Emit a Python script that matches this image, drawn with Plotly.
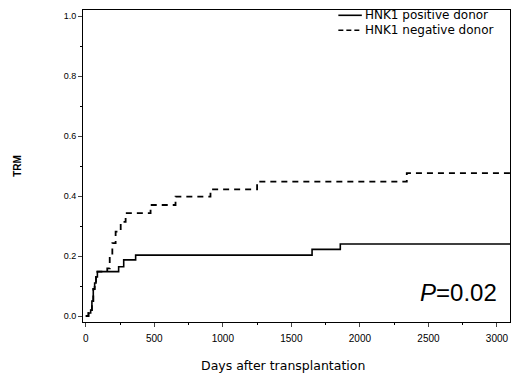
import plotly.graph_objects as go

# Step data (day, cumulative incidence)
pos_days = [0, 20, 36, 45, 55, 65, 75, 85, 240, 277, 364, 1651, 1857, 3095]
pos_trm  = [0.0, 0.01, 0.02, 0.05, 0.09, 0.11, 0.13, 0.148, 0.164, 0.187, 0.203, 0.222, 0.240, 0.240]

neg_days = [0, 20, 36, 45, 55, 65, 75, 85, 157, 175, 194, 218, 255, 291, 473, 655, 910, 1250, 2342, 3095]
neg_trm  = [0.0, 0.01, 0.02, 0.05, 0.09, 0.11, 0.13, 0.148, 0.159, 0.20, 0.243, 0.281, 0.314, 0.343, 0.370, 0.398, 0.422, 0.448, 0.476, 0.476]

series_names = ["HNK1 positive donor", "HNK1 negative donor"]
x_ticks = [0, 500, 1000, 1500, 2000, 2500, 3000]
y_ticks = [0.0, 0.2, 0.4, 0.6, 0.8, 1.0]
y_ticklabels = ["0.0", "0.2", "0.4", "0.6", "0.8", "1.0"]

fig = go.Figure()
fig.add_trace(go.Scatter(x=pos_days, y=pos_trm, mode="lines", line=dict(color="black", width=1.6, shape="hv"),
                         name=series_names[0], showlegend=False))
fig.add_trace(go.Scatter(x=neg_days, y=neg_trm, mode="lines", line=dict(color="black", width=1.8, shape="hv", dash="6px,5px"),
                         name=series_names[1], showlegend=False))

font = "Liberation Sans, Arial, sans-serif"
wide = "DejaVu Sans, sans-serif"
fig.update_layout(
    width=512, height=374,
    margin=dict(l=83, r=2, t=10, b=52),
    paper_bgcolor="white", plot_bgcolor="white",
    font=dict(family=font, color="black", size=10),
    showlegend=False,
)
fig.update_xaxes(range=[-20, 3095], tickvals=x_ticks, ticks="outside", ticklen=4, tickwidth=1,
                 showline=True, linecolor="black", linewidth=1, mirror=True, showgrid=False, zeroline=False,
                 minor=dict(dtick=250, ticks="outside", ticklen=2, tickcolor="black"),
                 tickfont=dict(size=10), ticklabelstandoff=3)
fig.update_yaxes(range=[-0.02, 1.02], tickvals=y_ticks, ticktext=y_ticklabels, ticks="outside", ticklen=4, tickwidth=1,
                 showline=True, linecolor="black", linewidth=1, mirror=True, showgrid=False, zeroline=False,
                 minor=dict(dtick=0.1, ticks="outside", ticklen=2, tickcolor="black"),
                 tickfont=dict(size=9), title=dict(text="<b>TRM</b>", font=dict(size=10), standoff=40))

# x-axis title
fig.add_annotation(xref="paper", yref="paper", x=0.468, y=-0.141, text="Days after transplantation",
                   showarrow=False, xanchor="center", yanchor="middle", font=dict(family=wide, size=12.5))

# Custom compact legend
fig.add_shape(type="line", xref="paper", yref="paper", x0=0.598, x1=0.653, y0=0.983, y1=0.983,
              line=dict(color="black", width=1.6))
fig.add_shape(type="line", xref="paper", yref="paper", x0=0.598, x1=0.653, y0=0.935, y1=0.935,
              line=dict(color="black", width=1.6, dash="5px,3px"))
fig.add_annotation(xref="paper", yref="paper", x=0.657, y=0.983, text=series_names[0], showarrow=False,
                   xanchor="left", yanchor="middle", borderpad=0, font=dict(family=wide, size=12))
fig.add_annotation(xref="paper", yref="paper", x=0.657, y=0.935, text=series_names[1], showarrow=False,
                   xanchor="left", yanchor="middle", borderpad=0, font=dict(family=wide, size=12))

fig.add_annotation(xref="paper", yref="paper", x=0.975, y=0.045, text="<i>P</i>=0.02", showarrow=False,
                   xanchor="right", yanchor="bottom", font=dict(size=24))

fig.write_html("out.html")
